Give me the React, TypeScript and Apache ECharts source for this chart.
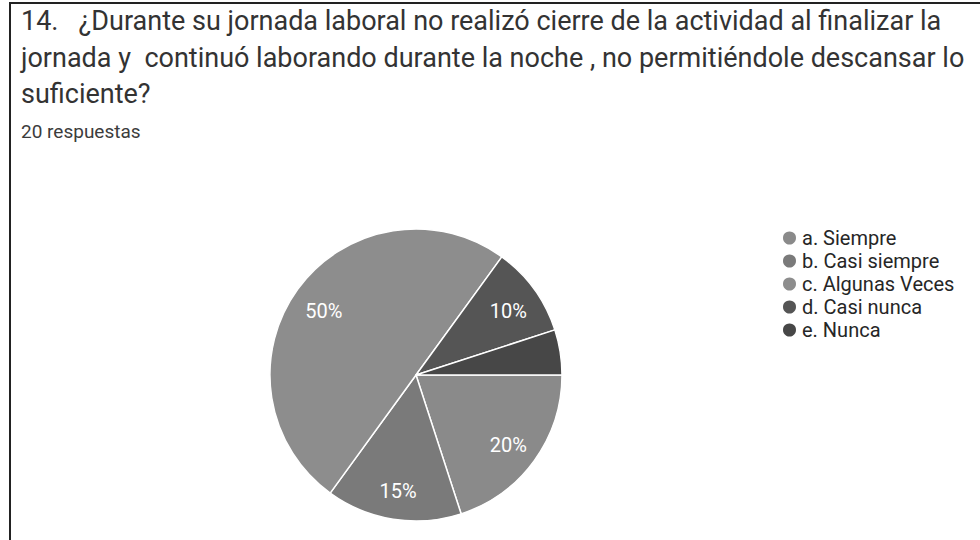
import React, { useEffect, useRef } from "react";
import * as echarts from "echarts";

const categories = ["a. Siempre", "b. Casi siempre", "c. Algunas Veces", "d. Casi nunca", "e. Nunca"];
const counts = [4, 3, 10, 2, 1];
const sliceColors = ["#8a8a8a", "#7a7a7a", "#8d8d8d", "#555555", "#474747"];
const titleLines = [
  "14.\u00a0\u00a0\u00a0¿Durante su jornada laboral no realizó cierre de la actividad al finalizar la",
  "jornada y\u00a0\u00a0continuó laborando durante la noche , no permitiéndole descansar lo",
  "suficiente?",
];
const subtitle = "20 respuestas";

export default function App() {
  const ref = useRef<HTMLDivElement>(null);
  useEffect(() => {
    if (!ref.current) return;
    const chart = echarts.init(ref.current, undefined, { renderer: "svg" });
    const data = categories.map((name, i) => ({
      name,
      value: counts[i],
      itemStyle: { color: sliceColors[i] },
    }));
    const total = counts.reduce((a, b) => a + b, 0);
    chart.setOption({
      animation: false,
      backgroundColor: "#ffffff",
      legend: {
        orient: "vertical",
        left: 781,
        top: 228,
        padding: 0,
        icon: "circle",
        itemWidth: 15,
        itemHeight: 15,
        itemGap: 3,
        data: categories,
        textStyle: { fontFamily: "Roboto", fontSize: 20, color: "#262626" },
        selectedMode: false,
      },
      graphic: [
        {
          type: "line",
          shape: { x1: 10, y1: 3, x2: 980, y2: 3 },
          style: { stroke: "#222222", lineWidth: 2 },
        },
        {
          type: "line",
          shape: { x1: 10, y1: 2, x2: 10, y2: 540 },
          style: { stroke: "#222222", lineWidth: 2 },
        },
        ...titleLines.map((t, i) => ({
          type: "text",
          x: 21,
          y: 21 + i * 36.5,
          style: {
            text: t,
            fontFamily: "Roboto",
            fontSize: 27,
            fill: "#333333",
            verticalAlign: "middle",
          },
        })),
        {
          type: "text",
          x: 21,
          y: 131,
          style: {
            text: subtitle,
            fontFamily: "Roboto",
            fontSize: 19,
            fill: "#3c3c3c",
            verticalAlign: "middle",
          },
        },
      ],
      series: [
        {
          type: "pie",
          center: [416, 375],
          radius: 146,
          startAngle: 0,
          clockwise: true,
          silent: true,
          data,
          label: { show: false },
          labelLine: { show: false },
          itemStyle: { borderColor: "#ffffff", borderWidth: 1.5 },
        },
        {
          type: "pie",
          center: [416, 378],
          radius: [100, 122],
          startAngle: 0,
          clockwise: true,
          silent: true,
          legendHoverLink: false,
          data: categories.map((name, i) => ({
            name,
            value: counts[i],
            itemStyle: { color: "rgba(0,0,0,0)" },
            label: { show: counts[i] / total >= 0.1 },
          })),
          label: {
            position: "inside",
            formatter: (p: any) => Math.round(p.percent) + "%",
            color: "#ffffff",
            fontFamily: "Roboto",
            fontSize: 20,
          },
          labelLine: { show: false },
        },
      ],
    });
    return () => chart.dispose();
  }, []);
  return (
    <div
      ref={ref}
      style={{ position: "fixed", left: 0, top: 0, width: 980, height: 540 }}
    />
  );
}
